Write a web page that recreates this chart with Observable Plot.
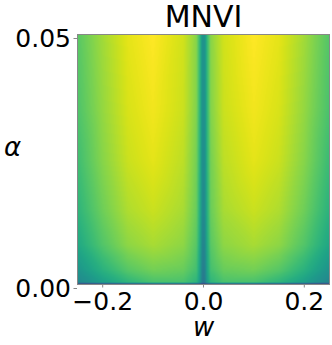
<!DOCTYPE html>
<html>
<head>
<meta charset="utf-8">
<script src="https://cdn.jsdelivr.net/npm/d3@7"></script>
<script src="https://cdn.jsdelivr.net/npm/@observablehq/plot@0.6"></script>
<style>
  html, body { margin: 0; padding: 0; background: #fff; }
  #chart svg { display: block; }
</style>
</head>
<body>
<div id="chart"></div>
<script>
// Sample grid (viridis position 0..1)
const wValues = [-0.25, -0.2, -0.15, -0.1, -0.04, -0.014, -0.007, -0.003, 0, 0.003, 0.007, 0.014, 0.04, 0.1, 0.15, 0.2, 0.25];
const alphaValues = [0.05, 0.035, 0.025, 0.015, 0.008, 0.003, 0.0004, 0];

const rowA050 = [0.74, 0.86, 0.96, 1.00, 0.93, 0.82, 0.66, 0.53, 0.50, 0.53, 0.66, 0.82, 0.93, 1.00, 0.96, 0.86, 0.73];
const rowA035 = [0.72, 0.84, 0.94, 0.98, 0.92, 0.81, 0.65, 0.52, 0.49, 0.52, 0.65, 0.81, 0.92, 0.98, 0.94, 0.84, 0.71];
const rowA025 = [0.69, 0.82, 0.92, 0.96, 0.90, 0.79, 0.64, 0.51, 0.48, 0.51, 0.64, 0.79, 0.90, 0.96, 0.92, 0.82, 0.68];
const rowA015 = [0.65, 0.78, 0.88, 0.92, 0.87, 0.77, 0.62, 0.50, 0.46, 0.50, 0.62, 0.77, 0.87, 0.92, 0.88, 0.78, 0.64];
const rowA008 = [0.60, 0.73, 0.83, 0.87, 0.83, 0.74, 0.60, 0.48, 0.44, 0.48, 0.60, 0.74, 0.83, 0.87, 0.83, 0.73, 0.59];
const rowA003 = [0.52, 0.64, 0.74, 0.79, 0.77, 0.70, 0.57, 0.45, 0.41, 0.45, 0.57, 0.70, 0.77, 0.79, 0.74, 0.64, 0.51];
const rowA0004 = [0.46, 0.56, 0.65, 0.71, 0.71, 0.65, 0.54, 0.43, 0.39, 0.43, 0.54, 0.65, 0.71, 0.71, 0.65, 0.56, 0.45];
const rowA000 = [0.12, 0.12, 0.12, 0.12, 0.12, 0.12, 0.12, 0.12, 0.12, 0.12, 0.12, 0.12, 0.12, 0.12, 0.12, 0.12, 0.12];

const xTicks = [-0.2, 0.0, 0.2];
const yTicks = [0.00, 0.05];
const title = "MNVI";
const xLabel = "w";
const yLabel = "α";

const rows = [rowA050, rowA035, rowA025, rowA015, rowA008, rowA003, rowA0004, rowA000];
const samples = [];
rows.forEach((row, i) => {
  row.forEach((v, j) => samples.push({w: wValues[j], a: alphaValues[i], v}));
});

const font = "DejaVu Sans";

const chart = Plot.plot({
  width: 332,
  height: 345,
  marginLeft: 77,
  marginRight: 3,
  marginTop: 34,
  marginBottom: 61,
  style: {fontFamily: font, fontSize: "25px", color: "#000", background: "#fff"},
  x: {domain: [-0.25, 0.25], ticks: xTicks, tickFormat: d3.format(".1f"), tickSize: 3.5, tickPadding: 4, label: null},
  y: {domain: [0, 0.05], ticks: yTicks, tickFormat: d3.format(".2f"), tickSize: 3.5, tickPadding: 3, label: null},
  color: {type: "linear", scheme: "viridis", domain: [0, 1]},
  marks: [
    Plot.raster(samples, {
      x: "w", y: "a", fill: "v",
      interpolate: "barycentric",
      x1: -0.25, x2: 0.25, y1: 0, y2: 0.05,
      pixelSize: 1
    }),
    Plot.frame({stroke: "#888", strokeWidth: 1}),
    Plot.axisX({ticks: xTicks, tickFormat: d3.format(".1f"), tickSize: 3.5, tickPadding: 4, stroke: "#888", label: null}),
    Plot.axisY({ticks: yTicks, tickFormat: d3.format(".2f"), tickSize: 3.5, tickPadding: 3, dy: 4, stroke: "#888", label: null}),
    Plot.text([title], {frameAnchor: "top", lineAnchor: "middle", text: d => d, dy: -17, fontSize: 30, fill: "#000"}),
    Plot.text([yLabel], {frameAnchor: "left", lineAnchor: "middle", text: d => d, dx: -65, dy: -12, fontSize: 26, fontStyle: "italic", textAnchor: "middle", fill: "#000"}),
    Plot.text([xLabel], {frameAnchor: "bottom", lineAnchor: "middle", text: d => d, dy: 43, fontSize: 26, fontStyle: "italic", fill: "#000"})
  ]
});
document.getElementById("chart").appendChild(chart);
</script>
</body>
</html>
